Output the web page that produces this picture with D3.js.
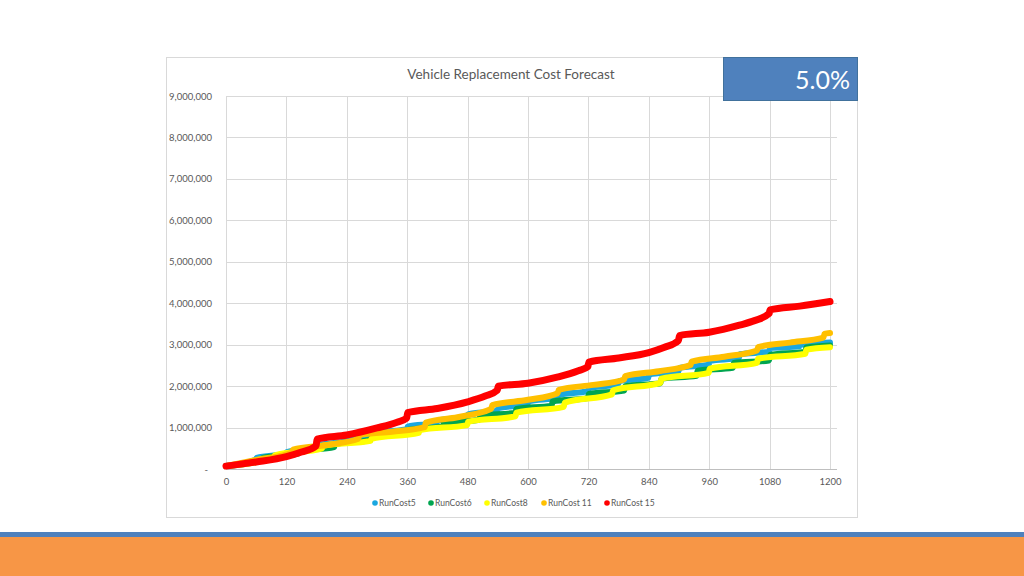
<!DOCTYPE html>
<html>
<head>
<meta charset="utf-8">
<script src="https://cdnjs.cloudflare.com/ajax/libs/d3/7.8.5/d3.min.js"></script>
<style>
	body { margin: 0; background: #fff; }
	svg { display: block; font-family: Lato, 'Open Sans', sans-serif; }
</style>
</head>
<body>
<div class="chart"></div>
<script>
// tick labels
const xTicks = [0, 120, 240, 360, 480, 600, 720, 840, 960, 1080, 1200];
const yTicks = [0, 1000000, 2000000, 3000000, 4000000, 5000000, 6000000, 7000000, 8000000, 9000000];

const seriesNames = ['RunCost5', 'RunCost6', 'RunCost8', 'RunCost 11', 'RunCost 15'];
const seriesColors = ['#1aa7e0', '#00a550', '#ffff00', '#ffc000', '#ff0000'];

// values (month, cost)
const rc5Months = [0, 59, 61, 119, 121, 179, 181, 239, 241, 299, 301, 359, 361, 419, 421, 479, 481, 539, 541, 599, 601, 659, 661, 719, 721, 779, 781, 839, 841, 899, 901, 959, 961, 1019, 1021, 1079, 1081, 1139, 1141, 1200];
const rc5Values = [70000, 220000, 270000, 370000, 410000, 520000, 570000, 670000, 720000, 820000, 870000, 960000, 1020000, 1110000, 1170000, 1260000, 1320000, 1410000, 1470000, 1560000, 1630000, 1720000, 1790000, 1880000, 1950000, 2040000, 2120000, 2200000, 2280000, 2360000, 2440000, 2520000, 2610000, 2680000, 2770000, 2830000, 2920000, 2960000, 3000000, 3050000];

const rc6Months = [0, 71, 73, 143, 145, 215, 217, 287, 289, 359, 361, 431, 433, 503, 505, 575, 577, 647, 649, 719, 721, 791, 793, 863, 865, 935, 937, 1007, 1009, 1079, 1081, 1151, 1153, 1200];
const rc6Values = [70000, 210000, 270000, 370000, 430000, 530000, 600000, 700000, 770000, 860000, 940000, 1030000, 1110000, 1190000, 1280000, 1360000, 1450000, 1530000, 1630000, 1710000, 1810000, 1890000, 2000000, 2070000, 2180000, 2250000, 2370000, 2440000, 2560000, 2620000, 2750000, 2830000, 2930000, 2980000];

const rc8Months = [0, 95, 97, 191, 193, 287, 289, 383, 385, 479, 481, 575, 577, 671, 673, 767, 769, 863, 865, 959, 961, 1055, 1057, 1151, 1153, 1200];
const rc8Values = [70000, 280000, 330000, 500000, 560000, 680000, 730000, 870000, 940000, 1060000, 1140000, 1270000, 1360000, 1500000, 1600000, 1800000, 1900000, 2080000, 2180000, 2320000, 2420000, 2560000, 2660000, 2780000, 2880000, 2940000];

const rc11Months = [0, 60, 131, 133, 200, 263, 265, 330, 395, 397, 460, 527, 529, 600, 659, 661, 730, 791, 793, 860, 923, 925, 990, 1055, 1057, 1120, 1187, 1189, 1200];
const rc11Values = [70000, 220000, 400000, 470000, 580000, 730000, 820000, 900000, 1010000, 1120000, 1250000, 1450000, 1540000, 1670000, 1830000, 1910000, 2030000, 2160000, 2240000, 2360000, 2510000, 2590000, 2710000, 2860000, 2940000, 3050000, 3170000, 3260000, 3280000];

const rc15Months = [0, 60, 120, 150, 179, 181, 240, 300, 340, 359, 361, 420, 480, 515, 539, 541, 600, 660, 700, 719, 721, 780, 840, 870, 899, 901, 960, 1020, 1050, 1079, 1081, 1140, 1200];
const rc15Values = [70000, 170000, 300000, 410000, 560000, 720000, 820000, 990000, 1130000, 1230000, 1360000, 1460000, 1620000, 1760000, 1900000, 2000000, 2070000, 2220000, 2370000, 2470000, 2580000, 2680000, 2810000, 2930000, 3100000, 3220000, 3300000, 3470000, 3580000, 3750000, 3840000, 3930000, 4040000];

const series = [
	{ name: seriesNames[0], color: seriesColors[0], months: rc5Months, values: rc5Values },
	{ name: seriesNames[1], color: seriesColors[1], months: rc6Months, values: rc6Values },
	{ name: seriesNames[2], color: seriesColors[2], months: rc8Months, values: rc8Values },
	{ name: seriesNames[3], color: seriesColors[3], months: rc11Months, values: rc11Values },
	{ name: seriesNames[4], color: seriesColors[4], months: rc15Months, values: rc15Values }
];

let w = 1024;
let h = 576;

let svg = d3.select('.chart').append('svg').attr('width', w).attr('height', h);

// bottom bands
svg.append('rect').attr('x', 0).attr('y', 532).attr('width', w).attr('height', 5).attr('fill', '#4f81bd');
svg.append('rect').attr('x', 0).attr('y', 537).attr('width', w).attr('height', h - 537).attr('fill', '#f79646');

// chart frame
svg
	.append('rect')
	.attr('x', 166.5)
	.attr('y', 57.5)
	.attr('width', 691)
	.attr('height', 460)
	.attr('fill', '#fff')
	.attr('stroke', '#d9d9d9');

let xScale = d3.scaleLinear().domain([ 0, 1200 ]).range([ 226, 830 ]);
let yScale = d3.scaleLinear().domain([ 0, 9000000 ]).range([ 469, 96 ]);
let gridRight = xScale(1200) + 7;

// gridlines
svg
	.append('g')
	.selectAll('line')
	.data(yTicks)
	.enter()
	.append('line')
	.attr('x1', xScale(0))
	.attr('x2', gridRight)
	.attr('y1', (d) => Math.round(yScale(d)) + 0.5)
	.attr('y2', (d) => Math.round(yScale(d)) + 0.5)
	.attr('stroke', (d) => (d === 0 ? '#bfbfbf' : '#d9d9d9'));

svg
	.append('g')
	.selectAll('line')
	.data(xTicks)
	.enter()
	.append('line')
	.attr('x1', (d) => Math.round(xScale(d)) + 0.5)
	.attr('x2', (d) => Math.round(xScale(d)) + 0.5)
	.attr('y1', yScale(9000000))
	.attr('y2', yScale(0))
	.attr('stroke', '#d9d9d9');

// axes (labels only)
let yAxis = svg
	.append('g')
	.attr('transform', 'translate(' + (xScale(0) - 11) + ',0)')
	.call(d3.axisLeft(yScale).tickValues(yTicks).tickSize(0).tickFormat((d) => (d === 0 ? '-' : d3.format(',')(d))));
yAxis.select('.domain').remove();
yAxis.selectAll('text').attr('fill', '#595959').attr('font-size', '9.5px').attr('font-family', 'Lato, sans-serif');
yAxis.selectAll('text').filter((d) => d === 0).attr('dx', '-4');

let xAxis = svg
	.append('g')
	.attr('transform', 'translate(0,' + (yScale(0) + 6) + ')')
	.call(d3.axisBottom(xScale).tickValues(xTicks).tickSize(0).tickFormat(d3.format('d')));
xAxis.select('.domain').remove();
xAxis.selectAll('text').attr('fill', '#595959').attr('font-size', '9.5px').attr('font-family', 'Lato, sans-serif');

// series
let line = d3
	.line()
	.curve(d3.curveMonotoneX)
	.x((d) => xScale(d[0]))
	.y((d) => yScale(d[1]));

series.forEach(function(s, i) {
	let pts = s.months.map((m, j) => [ m, s.values[j] ]);
	svg
		.append('path')
		.datum(pts)
		.attr('d', line)
		.attr('fill', 'none')
		.attr('stroke', s.color)
		.attr('stroke-width', i === 4 ? 7 : 6)
		.attr('stroke-linecap', 'round')
		.attr('stroke-linejoin', 'round');
});

// Chart Title
svg
	.append('text')
	.attr('x', 511)
	.attr('y', 79)
	.attr('text-anchor', 'middle')
	.attr('font-size', '13.5px')
	.attr('fill', '#595959')
	.text('Vehicle Replacement Cost Forecast');

// rate box
svg
	.append('rect')
	.attr('x', 723.5)
	.attr('y', 57.5)
	.attr('width', 134)
	.attr('height', 43)
	.attr('fill', '#4f81bd')
	.attr('stroke', '#41719c');
svg
	.append('text')
	.attr('x', 850)
	.attr('y', 89)
	.attr('text-anchor', 'end')
	.attr('font-size', '25px')
	.attr('fill', '#fff')
	.text('5.0%');

// legend
let legendX = [375, 431, 487, 544, 607];
let legend = svg
	.append('g')
	.selectAll('g')
	.data(series)
	.enter()
	.append('g')
	.attr('transform', (d, i) => 'translate(' + legendX[i] + ',503)');
legend.append('circle').attr('r', 2.8).attr('fill', (d) => d.color);
legend
	.append('text')
	.attr('x', 4)
	.attr('y', 3)
	.attr('font-size', '8.5px')
	.attr('fill', '#595959')
	.text((d) => d.name);
</script>
</body>
</html>
